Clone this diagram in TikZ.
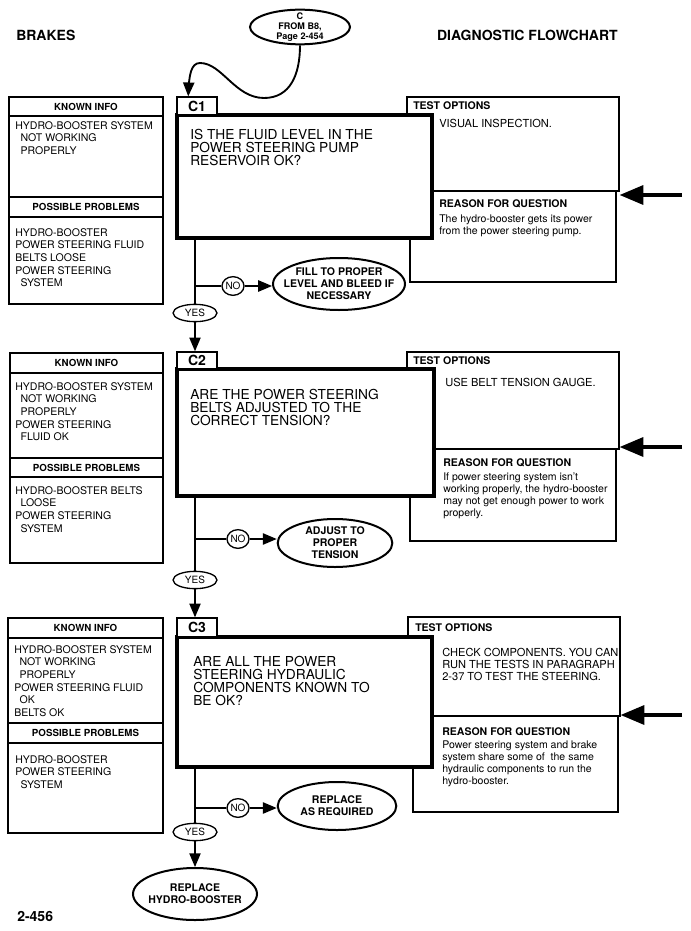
\documentclass[tikz,border=0pt]{standalone}
\usepackage{fontspec}
\setmainfont{TeX Gyre Heros}
\usetikzlibrary{arrows,shapes,fit}
\tikzset{
  headtext/.style = {inner sep=0pt, font=\bfseries\fontsize{10.5}{12}\selectfont},
  boxline/.style = {rectangle, draw=black, inner sep=0pt, line width=0.9pt},
  hdrtext/.style = {inner sep=0pt, font=\bfseries\fontsize{7.3}{9}\selectfont},% known info / possible problems
  testbox/.style = {rectangle, draw=black, fill=white, inner sep=0pt, line width=1.2pt},
  reasonbox/.style = {rectangle, draw=black, fill=white, inner sep=0pt, line width=0.9pt},
  qbox/.style = {rectangle, draw=black, fill=white, inner sep=0pt, line width=3.6pt},% question
  tabbox/.style = {rectangle, draw=black, fill=white, inner sep=0pt, line width=1.1pt},
  tabtext/.style = {inner sep=0pt, font=\bfseries\fontsize{10.5}{12}\selectfont},
  infotext/.style = {anchor=north west, inner sep=0pt, align=left,
    font=\fontsize{7.9}{9.5}\selectfont},
  qtext/.style = {anchor=north west, inner sep=0pt, align=left,
    font=\fontsize{10.3}{9.7}\selectfont},
  opthead/.style = {anchor=west, inner sep=0pt, font=\bfseries\fontsize{7.9}{9}\selectfont},
  opttext/.style = {anchor=north west, inner sep=0pt, align=left,
    font=\fontsize{8.3}{9}\selectfont},
  reasontext/.style = {anchor=north west, inner sep=0pt, align=left,
    font=\fontsize{7.9}{8.8}\selectfont},
  endnode/.style = {ellipse, draw=black, fill=white, line width=1.5pt, inner sep=0pt},
  endtext/.style = {align=center, inner sep=0pt, font=\bfseries\fontsize{7.9}{9}\selectfont},
  yesno/.style = {ellipse, draw=black, fill=white, line width=1pt, inner sep=0pt,
    font=\fontsize{7.5}{9}\selectfont},
  flow/.style = {line width=1.4pt},
  flowarr/.style = {->, line width=1.4pt},
  sidearr/.style = {->, line width=3.2pt},
}

\begin{document}
\begin{tikzpicture}[x=0.75pt,y=-0.75pt,>=triangle 45]
  \useasboundingbox (0,0) rectangle (691,931);

  % page head
  \node[headtext, anchor=west] (brk) at (16,35) {BRAKES};
  \node[headtext, anchor=east] (dfc) at (618,35) {DIAGNOSTIC FLOWCHART};
  \node[endnode, minimum width=75pt, minimum height=26pt,
    label={[endtext, font=\bfseries\fontsize{6.8}{7.4}\selectfont]center:{C\\FROM B8,\\Page 2-454}}] (s0) at (300,27) {};

  %   C1
  \node[boxline, fit={(9,97) (163,116)}, label={[hdrtext]center:KNOWN INFO}] (kh1) {};
  \node[boxline, fit={(9,116) (163,197)}] (kb1) {};
  \node[boxline, fit={(9,197) (163,217)}, label={[hdrtext]center:POSSIBLE PROBLEMS}] (ph1) {};
  \node[boxline, fit={(9,217) (163,304)}] (pb1) {};
  \node[infotext] (kt1) at (15,121) {HYDRO-BOOSTER SYSTEM\\\hspace*{4pt}NOT WORKING\\\hspace*{4pt}PROPERLY};
  \node[infotext] (pt1) at (15,228) {HYDRO-BOOSTER\\POWER STEERING FLUID\\BELTS LOOSE\\POWER STEERING\\\hspace*{4pt}SYSTEM};

  \node[testbox, fit={(407,97) (619,191)}] (o1) {};
  \node[reasonbox, fit={(410,191) (616,282)}] (r1) {};
  \node[qbox, fit={(177,115) (432,238)}] (q1) {};
  \node[tabbox, fit={(177,97) (217,115)}, label={[tabtext]center:C1}] (t1) {};
  \node[qtext] (qt1) at (190,129) {IS THE FLUID LEVEL IN THE\\POWER STEERING PUMP\\RESERVOIR OK?};
  \node[opthead] (oh1) at (413,106) {TEST OPTIONS};
  \node[opttext] (ot1) at (439,119) {VISUAL INSPECTION.};
  \node[opthead] (rh1) at (439,204) {REASON FOR QUESTION};
  \node[reasontext] (rt1) at (439,215) {The hydro-booster gets its power\\from the power steering pump.};

  \node[yesno, minimum width=16.5pt, minimum height=14pt] (n1) at (233,286) {NO};
  \node[endnode, minimum width=99pt, minimum height=39pt,
    label={[endtext]center:{FILL TO PROPER\\LEVEL AND BLEED IF\\NECESSARY}}] (f1) at (339,284) {};
  \node[yesno, minimum width=33pt, minimum height=13pt] (y1) at (195,313) {YES};
  \coordinate (e1) at (682,195);

  \draw[flowarr] (s0.south) .. controls (300,75) and (290,98) .. (264,98)
    .. controls (235,98) and (222,63) .. (200,63)
    .. controls (191,63) and (189,75) .. ([xshift=9pt]t1.north west);
  \path[flow] (q1.south -| y1) edge (y1);
  \path[flow] (y1 |- n1) edge (n1);
  \path[flowarr] (n1) edge (n1 -| f1.west);
  \path[sidearr] (e1) edge (e1 -| o1.east);

  %   C2
  \node[boxline, fit={(10,353) (163,373)}, label={[hdrtext]center:KNOWN INFO}] (kh2) {};
  \node[boxline, fit={(10,373) (163,458)}] (kb2) {};
  \node[boxline, fit={(10,458) (163,477)}, label={[hdrtext]center:POSSIBLE PROBLEMS}] (ph2) {};
  \node[boxline, fit={(10,477) (163,563)}] (pb2) {};
  \node[infotext] (kt2) at (15,382) {HYDRO-BOOSTER SYSTEM\\\hspace*{4pt}NOT WORKING\\\hspace*{4pt}PROPERLY\\POWER STEERING\\\hspace*{4pt}FLUID OK};
  \node[infotext] (pt2) at (15,486) {HYDRO-BOOSTER BELTS\\\hspace*{4pt}LOOSE\\POWER STEERING\\\hspace*{4pt}SYSTEM};

  \node[testbox, fit={(407,352) (619,449)}] (o2) {};
  \node[reasonbox, fit={(410,449) (616,541)}] (r2) {};
  \node[qbox, fit={(177,369) (434,496)}] (q2) {};
  \node[tabbox, fit={(177,352) (217,369)}, label={[tabtext]center:C2}] (t2) {};
  \node[qtext] (qt2) at (190,389) {ARE THE POWER STEERING\\BELTS ADJUSTED TO THE\\CORRECT TENSION?};
  \node[opthead] (oh2) at (413,361) {TEST OPTIONS};
  \node[opttext] (ot2) at (445,378) {USE BELT TENSION GAUGE.};
  \node[opthead] (rh2) at (443,463) {REASON FOR QUESTION};
  \node[reasontext] (rt2) at (443,473) {If power steering system isn't\\working properly, the hydro-booster\\may not get enough power to work\\properly.};

  \node[yesno, minimum width=16.5pt, minimum height=14pt] (n2) at (238,539) {NO};
  \node[endnode, minimum width=86pt, minimum height=36pt,
    label={[endtext]center:{ADJUST TO\\PROPER\\TENSION}}] (a2) at (335,543) {};
  \node[yesno, minimum width=33pt, minimum height=13pt] (y2) at (195,580) {YES};
  \coordinate (e2) at (682,447);

  \path[flowarr] (y1) edge (y1 |- t2.north);
  \path[flow] (q2.south -| y2) edge (y2);
  \path[flow] (y2 |- n2) edge (n2);
  \path[flowarr] (n2) edge (n2 -| a2.west);
  \path[sidearr] (e2) edge (e2 -| o2.east);

  %   C3
  \node[boxline, fit={(8,618) (163,638)}, label={[hdrtext]center:KNOWN INFO}] (kh3) {};
  \node[boxline, fit={(8,638) (163,723)}] (kb3) {};
  \node[boxline, fit={(8,723) (163,743)}, label={[hdrtext]center:POSSIBLE PROBLEMS}] (ph3) {};
  \node[boxline, fit={(8,743) (163,833)}] (pb3) {};
  \node[infotext] (kt3) at (14,645) {HYDRO-BOOSTER SYSTEM\\\hspace*{4pt}NOT WORKING\\\hspace*{4pt}PROPERLY\\POWER STEERING FLUID\\\hspace*{4pt}OK\\BELTS OK};
  \node[infotext] (pt3) at (15,755) {HYDRO-BOOSTER\\POWER STEERING\\\hspace*{4pt}SYSTEM};

  \node[testbox, fit={(408,617) (620,716)}] (o3) {};
  \node[reasonbox, fit={(413,716) (618,812)}] (r3) {};
  \node[qbox, fit={(177,637) (432,767)}] (q3) {};
  \node[tabbox, fit={(177,618) (217,637)}, label={[tabtext]center:C3}] (t3) {};
  \node[qtext] (qt3) at (193,656) {ARE ALL THE POWER\\STEERING HYDRAULIC\\COMPONENTS KNOWN TO\\BE OK?};
  \node[opthead] (oh3) at (415,628) {TEST OPTIONS};
  \node[opttext] (ot3) at (442,648) {CHECK COMPONENTS. YOU CAN\\RUN THE TESTS IN PARAGRAPH\\2-37 TO TEST THE STEERING.};
  \node[opthead] (rh3) at (442,732) {REASON FOR QUESTION};
  \node[reasontext] (rt3) at (442,741) {Power steering system and brake\\system share some of\ \ the same\\hydraulic components to run the\\hydro-booster.};

  \node[yesno, minimum width=16.5pt, minimum height=14pt] (n3) at (238,808) {NO};
  \node[endnode, minimum width=89pt, minimum height=36pt,
    label={[endtext]center:{REPLACE\\AS REQUIRED}}] (p3) at (337,806) {};
  \node[yesno, minimum width=33pt, minimum height=13pt] (y3) at (195,832) {YES};
  \node[endnode, minimum width=93pt, minimum height=39pt,
    label={[endtext]center:{REPLACE\\HYDRO-BOOSTER}}] (fin) at (195,894) {};
  \coordinate (e3) at (682,715);

  \path[flowarr] (y2) edge (y2 |- t3.north);
  \path[flow] (q3.south -| y3) edge (y3);
  \path[flow] (y3 |- n3) edge (n3);
  \path[flowarr] (n3) edge (n3 -| p3.west);
  \path[flowarr] (y3) edge (fin);
  \path[sidearr] (e3) edge (e3 -| o3.east);

  \node[headtext, anchor=west] (pg) at (17,916) {2-456};
\end{tikzpicture}
\end{document}
